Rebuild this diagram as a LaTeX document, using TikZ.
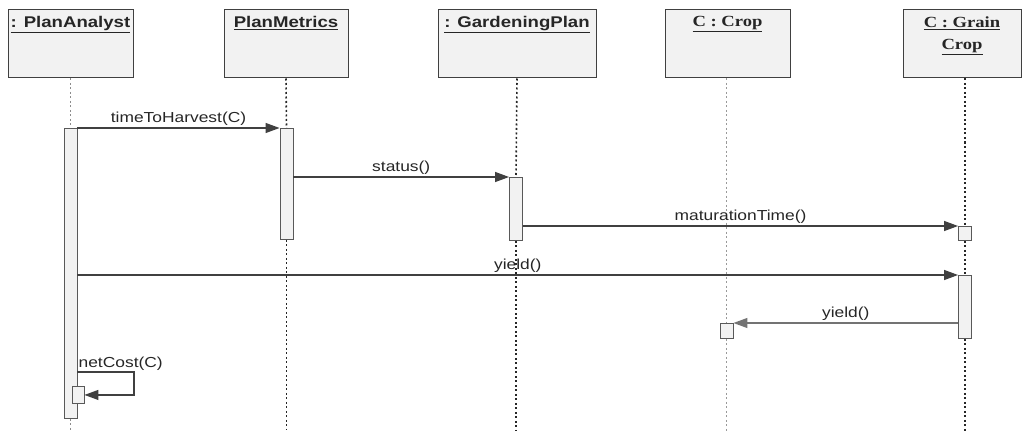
\documentclass[tikz,border=0pt]{standalone}
\usepackage{fontspec}
\usetikzlibrary{arrows.meta,positioning}
\newfontfamily\msgfont[FakeStretch=1.2]{Liberation Sans}
\newfontfamily\objfont[FakeStretch=1.2]{Liberation Sans}
\newfontfamily\objserif[FakeStretch=1.2]{Liberation Serif}

\begin{document}
\begin{tikzpicture}[
    x=1pt, y=-1pt,
    objbox/.style={draw=black!75, fill=gray!10, line width=1pt, minimum height=68pt, inner sep=0pt},
    objtitle/.style={anchor=north, inner sep=0pt, yshift=-7pt, align=center, font=\objfont\bfseries\fontsize{15.5}{22}\selectfont, text=black!85},
    lifeline/.style={black!85, line width=1.6pt, dash pattern=on 2pt off 2.5pt},
    actbar/.style={draw=black!65, fill=gray!10, line width=0.9pt, minimum width=13pt, inner sep=0pt, anchor=north},
    msg/.style={black!75, line width=1.2pt, -{Triangle[length=14pt,width=10pt]}},
    msglabel/.style={font=\msgfont\fontsize{14.5}{17}\selectfont, text=black!85, inner sep=2pt}
]
    \useasboundingbox (0,0) rectangle (1022,433);

    % Objects
    \node[objbox, minimum width=125pt] (pa) at (70.5,44) {};
    \node[objbox, minimum width=124pt] (pm) at (286,44) {};
    \node[objbox, minimum width=158pt] (gp) at (517,44) {};
    \node[objbox, minimum width=125pt] (cr) at (727.5,44) {};
    \node[objbox, minimum width=118pt] (gc) at (962,44) {};
    \node[objtitle] at (pa.north) {\underline{: PlanAnalyst}};
    \node[objtitle] at (pm.north) {\underline{PlanMetrics}};
    \node[objtitle] at (gp.north) {\underline{: GardeningPlan}};
    \node[objtitle, font=\objserif\bfseries\fontsize{15.5}{22}\selectfont] at (cr.north) {\underline{C : Crop}};
    \node[objtitle, font=\objserif\bfseries\fontsize{15.5}{22}\selectfont] at (gc.north) {\underline{C : Grain}\\\underline{Crop}};

    % Activations
    \node[actbar, minimum height=290pt] (pa1) at (70.5,128) {};
    \node[actbar, minimum height=111pt] (pm1) at (286.5,128) {};
    \node[actbar, minimum height=63pt] (gp1) at (516,177) {};
    \node[actbar, minimum height=14pt] (gc1) at (965,226) {};
    \node[actbar, minimum height=63pt] (gc2) at (965,275) {};
    \node[actbar, minimum height=15pt] (cr1) at (726.5,323) {};
    \node[actbar, minimum width=12pt, minimum height=17pt] (pa2) at (78,386) {};

    % Lifelines
    \draw[lifeline, black!45] (pa.south) -- (pa1.north -| pa.south);
    \draw[lifeline, black!45] (pa1.south -| pa.south) -- ++(0,12);
    \draw[lifeline] (pm.south) -- (pm1.north);
    \draw[lifeline] (pm1.south) -- ++(0,190);
    \draw[lifeline] (gp.south) -- (gp1.north);
    \draw[lifeline] (gp1.south) -- ++(0,190);
    \draw[lifeline, black!40] (cr.south -| cr1.north) -- (cr1.north);
    \draw[lifeline, black!40] (cr1.south) -- ++(0,92);
    \draw[lifeline] (gc.south -| gc1.north) -- (gc1.north);
    \draw[lifeline] (gc1.south) -- (gc2.north);
    \draw[lifeline] (gc2.south) -- ++(0,92);

    % Messages
    \draw[msg] (pa1.north east) -- node[msglabel, above] {timeToHarvest(C)} (pm1.north west);
    \draw[msg] (pm1.east |- gp1.north west) -- node[msglabel, above] {status()} (gp1.north west);
    \draw[msg] (gp1.east |- gc1.north west) -- node[msglabel, above] {maturationTime()} (gc1.north west);
    \draw[msg] (pa1.east |- gc2.north west) -- node[msglabel, above] {yield()} (gc2.north west);
    \draw[msg, black!55] (gc2.west |- cr1.north east) -- node[msglabel, above] {yield()} (cr1.north east);

    % Self call
    \coordinate (nc) at (134,372);
    \node[msglabel, anchor=south west, inner sep=1pt] at (pa1.east |- nc) {netCost(C)};
    \draw[msg] (pa1.east |- nc) -- (nc) |- (pa2.east);
\end{tikzpicture}
\end{document}
